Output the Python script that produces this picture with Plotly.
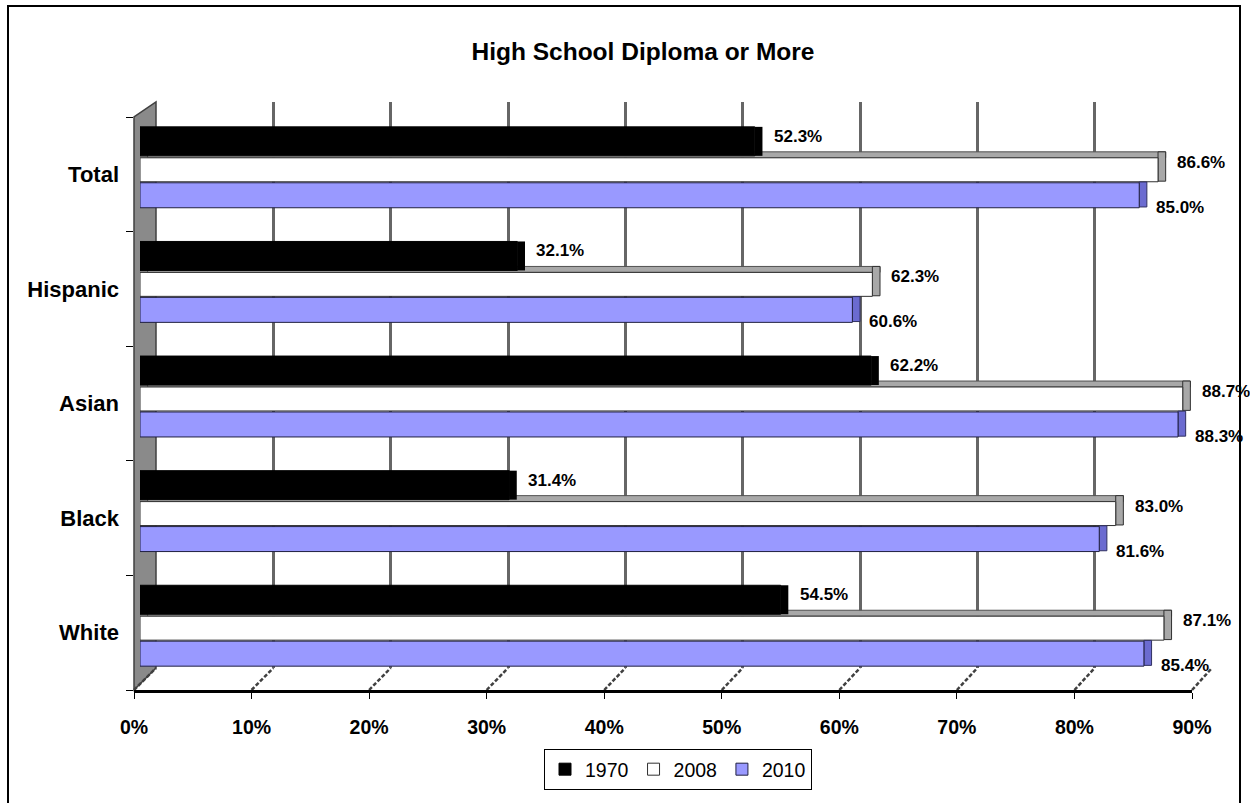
import plotly.graph_objects as go

# ---------------- data ----------------
categories = ["White", "Black", "Asian", "Hispanic", "Total"]   # bottom -> top
positions = [0, 1, 2, 3, 4]
series_names = ["1970", "2008", "2010"]
v1970 = [54.5, 31.4, 62.2, 32.1, 52.3]
v2008 = [87.1, 83.0, 88.7, 62.3, 86.6]
v2010 = [85.4, 81.6, 88.3, 60.6, 85.0]
tick_values = [0, 10, 20, 30, 40, 50, 60, 70, 80, 90]
tick_labels = ["0%", "10%", "20%", "30%", "40%", "50%", "60%", "70%", "80%", "90%"]
title_text = "High School Diploma or More"

# ---------------- geometry / style ----------------
W, H = 1250, 803
FONT = "Liberation Sans, Arial, sans-serif"


def fx(px):
    return px / W


def fy(py):
    return 1 - py / H


DEPTH = 0.65          # 3-D depth of a bar end, in axis units
FRONT_X0, FRONT_X90 = 134, 1192
BACK_X0, BACK_X90 = 156, 1212
FRONT_Y_TOP, FRONT_Y_BOT = 117, 690
BACK_Y_TOP, BACK_Y_BOT = 102, 668

fig = go.Figure()

# placeholder traces so that the grid and front-axis subplots exist
fig.add_trace(go.Scatter(x=[0], y=[0], xaxis="x", yaxis="y", mode="markers",
                         marker=dict(opacity=0), showlegend=False, hoverinfo="skip"))
fig.add_trace(go.Scatter(x=[0], y=[0], xaxis="x2", yaxis="y2", mode="markers",
                         marker=dict(opacity=0), showlegend=False, hoverinfo="skip"))

n = len(categories)
bar_common = dict(orientation="h", xaxis="x3", yaxis="y3", hoverinfo="skip")

# 2008 top face (grey strip)
fig.add_trace(go.Bar(x=v2008, y=positions, base=[DEPTH] * n, offset=0.144, width=0.052,
                     marker=dict(color="#A8A8A8", line=dict(color="#505050", width=1)),
                     showlegend=False, **bar_common))
# 1970 side face
fig.add_trace(go.Bar(x=[DEPTH] * n, y=positions, base=v1970, offset=0.161, width=0.253,
                     marker=dict(color="#000000", line=dict(width=0)),
                     showlegend=False, **bar_common))
# 1970 main
fig.add_trace(go.Bar(x=v1970, y=positions, offset=0.161, width=0.253, name=series_names[0],
                     marker=dict(color="#000000", line=dict(color="#000000", width=1)),
                     **bar_common))
# 2008 side face
fig.add_trace(go.Bar(x=[DEPTH] * n, y=positions, base=v2008, offset=-0.06, width=0.256,
                     marker=dict(color="#A8A8A8", line=dict(color="#303030", width=1)),
                     showlegend=False, **bar_common))
# 2008 main
fig.add_trace(go.Bar(x=v2008, y=positions, offset=-0.065, width=0.209, name=series_names[1],
                     marker=dict(color="#FFFFFF", line=dict(color="#303030", width=1)),
                     **bar_common))
# 2010 side face
fig.add_trace(go.Bar(x=[DEPTH] * n, y=positions, base=v2010, offset=-0.285, width=0.218,
                     marker=dict(color="#6B6BD0", line=dict(color="#303060", width=1)),
                     showlegend=False, **bar_common))
# 2010 main
fig.add_trace(go.Bar(x=v2010, y=positions, offset=-0.292, width=0.218, name=series_names[2],
                     marker=dict(color="#9999FF", line=dict(color="#202040", width=1)),
                     **bar_common))

# value labels
label_font = dict(family=FONT, size=17, color="#000000", weight="bold")
annotations = []
for vals, xs, ys in ((v1970, 17, 38), (v2008, 17, 12), (v2010, 15, -33)):
    for p, v in zip(positions, vals):
        annotations.append(dict(x=v, y=p, xref="x3", yref="y3", text=f"{v:.1f}%",
                                showarrow=False, xanchor="left", yanchor="middle",
                                xshift=xs, yshift=ys, font=label_font))

# ---------------- decoration shapes ----------------
shapes = []
# outer border
shapes.append(dict(type="rect", xref="paper", yref="paper", x0=fx(8), x1=fx(1240),
                   y0=-0.05, y1=fy(6), line=dict(color="#000000", width=2),
                   fillcolor="rgba(0,0,0,0)", layer="below"))
# left wall
wall = (f"M{fx(FRONT_X0)},{fy(FRONT_Y_BOT)} L{fx(FRONT_X0)},{fy(FRONT_Y_TOP)} "
        f"L{fx(BACK_X0)},{fy(BACK_Y_TOP)} L{fx(BACK_X0)},{fy(BACK_Y_BOT)} Z")
shapes.append(dict(type="path", path=wall, xref="paper", yref="paper",
                   fillcolor="#8A8A8A", line=dict(color="#404040", width=1.5), layer="below"))
# floor diagonals from front ticks to back gridlines
for t in tick_values:
    xf = FRONT_X0 + (FRONT_X90 - FRONT_X0) * t / 90
    xb = BACK_X0 + (BACK_X90 - BACK_X0) * t / 90
    shapes.append(dict(type="line", xref="paper", yref="paper",
                       x0=fx(xf), y0=fy(FRONT_Y_BOT), x1=fx(xb), y1=fy(BACK_Y_BOT),
                       line=dict(color="#404040", width=2.5, dash="4px,2px"), layer="below"))

fig.update_layout(
    width=W, height=H,
    autosize=False,
    margin=dict(l=0, r=0, t=0, b=0, pad=0),
    paper_bgcolor="#FFFFFF",
    plot_bgcolor="rgba(0,0,0,0)",
    barmode="overlay",
    showlegend=True,
    title=dict(text=title_text, x=fx(643), xanchor="center", y=fy(51), yanchor="middle",
               xref="paper", yref="paper", automargin=False,
               font=dict(family=FONT, size=24.5, color="#000000", weight="bold")),
    # back gridlines
    xaxis=dict(domain=[fx(BACK_X0), fx(BACK_X90)], range=[0, 90], anchor="y",
               tickvals=tick_values, showticklabels=False, ticks="",
               showgrid=True, gridcolor="#666666", gridwidth=3, zeroline=False,
               showline=False, fixedrange=True, automargin=False),
    yaxis=dict(domain=[fy(BACK_Y_BOT), fy(BACK_Y_TOP)], range=[0, 1], anchor="x",
               visible=False, fixedrange=True, automargin=False),
    # front axes
    xaxis2=dict(domain=[fx(FRONT_X0), fx(FRONT_X90)], range=[0, 90], anchor="y2",
                tickvals=tick_values, ticktext=tick_labels, ticks="outside", ticklen=6,
                tickcolor="#000000", tickwidth=1, showline=True, linecolor="#000000",
                linewidth=3, showgrid=False, zeroline=False, ticklabelstandoff=12,
                tickfont=dict(family=FONT, size=19.5, color="#000000", weight="bold"),
                fixedrange=True, automargin=False),
    yaxis2=dict(domain=[fy(FRONT_Y_BOT), fy(FRONT_Y_TOP)], range=[-0.5, 4.5], anchor="x2",
                tickvals=positions, ticktext=categories, ticks="", showgrid=False,
                zeroline=False, showline=False, ticklabelstandoff=14,
                minor=dict(ticks="outside", ticklen=7, tickcolor="#000000", tickwidth=1,
                           tickmode="array",
                           tickvals=[p - 0.5 for p in positions] + [positions[-1] + 0.5],
                           showgrid=False),
                tickfont=dict(family=FONT, size=22, color="#000000", weight="bold"),
                fixedrange=True, automargin=False),
    # bars
    xaxis3=dict(domain=[fx(140), fx(1198)], range=[0, 90], anchor="y3", visible=False,
                fixedrange=True, automargin=False),
    yaxis3=dict(domain=[fy(FRONT_Y_BOT), fy(FRONT_Y_TOP)], range=[-0.5, 4.5], anchor="x3",
                visible=False, fixedrange=True, automargin=False),
    legend=dict(orientation="h", x=fx(678), xanchor="center", y=fy(749), yanchor="top",
                bordercolor="#000000", borderwidth=1, bgcolor="#FFFFFF",
                font=dict(family=FONT, size=19.5, color="#000000"), itemwidth=30,
                traceorder="normal"),
    annotations=annotations,
    shapes=shapes,
)

fig.write_html("out.html")
